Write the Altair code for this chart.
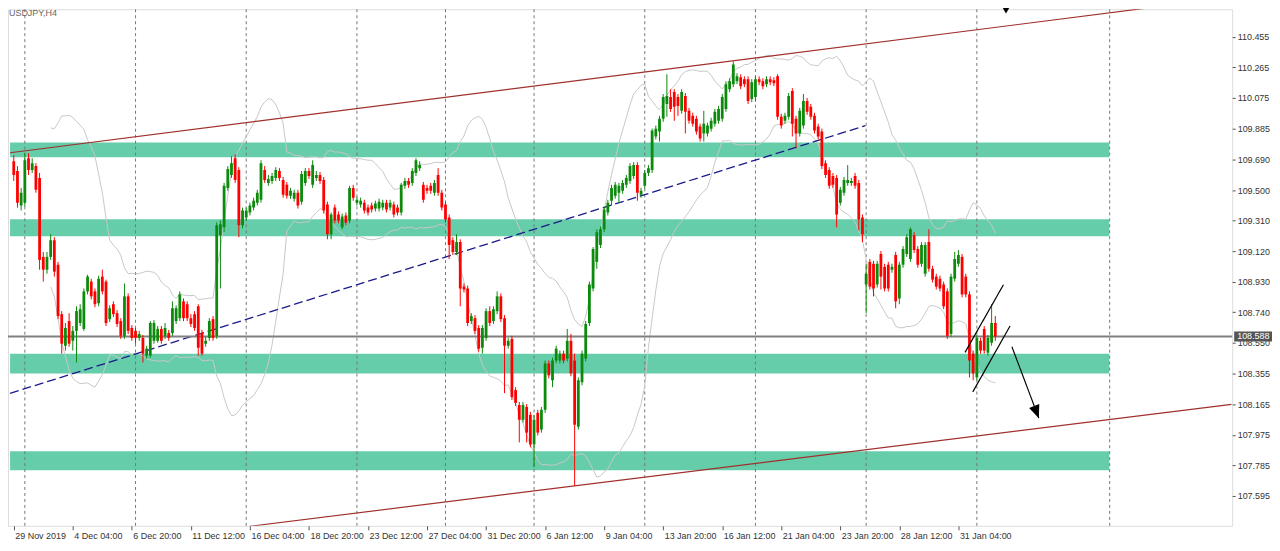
import altair as alt
import pandas as pd

# ---------------- data ----------------
open_ = [109.680,109.619,109.404,109.422,109.699,109.625,109.650,109.576,109.084,109.004,
109.084,109.188,109.035,108.727,108.530,108.684,108.561,108.623,108.672,108.635,
108.869,108.930,108.869,108.795,108.961,108.930,108.696,108.789,108.733,108.684,
108.592,108.838,108.641,108.623,108.579,108.579,108.469,108.469,108.561,108.561,
108.635,108.592,108.610,108.610,108.684,108.702,108.807,108.789,108.702,108.727,
108.776,108.610,108.543,108.579,108.696,108.592,109.219,109.268,109.514,109.594,
109.699,109.625,109.281,109.330,109.361,109.391,109.422,109.440,109.625,109.545,
109.557,109.576,109.619,109.563,109.533,109.465,109.447,109.484,109.428,109.545,
109.619,109.533,109.576,109.594,109.563,109.410,109.225,109.391,109.348,109.268,
109.342,109.311,109.514,109.422,109.410,109.422,109.391,109.404,109.385,109.385,
109.391,109.422,109.391,109.410,109.391,109.361,109.527,109.557,109.545,109.607,
109.637,109.533,109.514,109.527,109.484,109.594,109.484,109.410,109.330,109.188,
109.115,109.176,108.899,108.887,108.684,108.702,108.641,108.518,108.579,108.746,
108.684,108.746,108.838,108.702,108.530,108.573,108.254,108.161,108.069,108.149,
108.100,107.915,108.112,108.008,108.131,108.420,108.315,108.438,108.438,108.481,
108.450,108.561,108.438,108.026,108.303,108.450,108.672,108.887,109.053,109.158,
109.256,109.361,109.434,109.465,109.484,109.496,109.533,109.557,109.588,109.656,
109.471,109.527,109.607,109.625,109.834,109.865,109.945,110.037,110.080,110.111,
110.080,109.994,110.086,109.994,109.963,109.945,109.896,109.853,109.853,109.883,
109.914,109.932,109.945,110.006,110.129,110.160,110.178,110.203,110.191,110.191,
110.068,110.080,110.191,110.178,110.160,110.191,110.185,110.209,109.957,109.932,
109.957,110.117,109.945,109.853,109.902,110.055,110.019,109.963,109.896,109.865,
109.668,109.625,109.588,109.576,109.422,109.484,109.545,109.545,109.588,109.545,
109.330,108.912,109.053,109.041,108.912,109.102,109.022,109.035,109.004,109.096,
108.825,109.035,109.102,109.071,109.219,109.133,109.041,108.979,109.176,109.010,
108.961,108.948,108.912,108.869,108.604,108.948,109.041,109.084,108.961,108.850,
108.481,108.333,108.561,108.635,108.487,108.549,108.672]

high = [109.717,109.650,109.514,109.730,109.730,109.699,109.668,109.607,109.115,109.115,
109.225,109.207,109.053,108.746,108.672,108.733,108.653,108.776,108.789,108.887,
108.973,108.948,108.887,108.967,109.004,108.942,108.782,108.807,108.752,108.702,
108.918,108.856,108.659,108.641,108.623,108.598,108.530,108.684,108.690,108.653,
108.653,108.672,108.629,108.807,108.782,108.869,108.825,108.807,108.727,108.746,
108.789,108.629,108.586,108.702,108.715,109.299,109.311,109.545,109.650,109.711,
109.723,109.643,109.391,109.391,109.422,109.453,109.502,109.686,109.650,109.594,
109.607,109.643,109.637,109.582,109.551,109.514,109.502,109.502,109.619,109.637,
109.637,109.686,109.619,109.613,109.582,109.428,109.361,109.410,109.367,109.354,
109.361,109.527,109.533,109.459,109.453,109.440,109.410,109.422,109.434,109.447,
109.440,109.440,109.440,109.428,109.410,109.545,109.576,109.576,109.637,109.699,
109.680,109.551,109.533,109.545,109.563,109.637,109.502,109.428,109.348,109.207,
109.225,109.194,108.918,108.905,108.733,108.721,108.659,108.659,108.764,108.776,
108.776,108.869,108.856,108.721,108.579,108.592,108.272,108.180,108.180,108.167,
108.118,108.100,108.131,108.149,108.438,108.438,108.456,108.530,108.500,108.500,
108.635,108.604,108.481,108.333,108.500,108.684,108.930,109.145,109.256,109.274,
109.397,109.440,109.533,109.551,109.545,109.563,109.594,109.668,109.674,109.674,
109.514,109.625,109.656,109.883,109.902,109.963,110.099,110.222,110.129,110.129,
110.099,110.129,110.105,110.012,109.982,109.963,109.914,109.994,109.920,109.951,
110.006,110.025,110.099,110.178,110.197,110.301,110.228,110.222,110.209,110.209,
110.191,110.209,110.209,110.197,110.209,110.209,110.203,110.222,109.976,109.982,
110.105,110.135,109.963,110.012,110.099,110.074,110.037,109.982,109.914,109.883,
109.686,109.643,109.607,109.594,109.520,109.582,109.656,109.576,109.607,109.563,
109.348,109.041,109.071,109.059,109.059,109.121,109.041,109.053,109.041,109.115,
109.053,109.151,109.225,109.268,109.238,109.151,109.176,109.176,109.256,109.028,
108.979,108.967,108.930,108.887,108.979,109.115,109.127,109.102,108.979,108.869,
108.500,108.598,108.579,108.653,108.598,108.789,108.715]

low = [109.557,109.391,109.373,109.397,109.594,109.607,109.484,109.004,108.930,108.979,
109.065,108.961,108.696,108.481,108.500,108.524,108.500,108.426,108.653,108.623,
108.850,108.819,108.770,108.776,108.850,108.653,108.678,108.709,108.647,108.573,
108.573,108.604,108.561,108.543,108.561,108.426,108.450,108.456,108.543,108.549,
108.543,108.573,108.561,108.592,108.666,108.684,108.684,108.684,108.647,108.623,
108.469,108.469,108.524,108.561,108.561,108.573,108.887,109.238,109.496,109.576,
109.545,109.207,109.262,109.311,109.342,109.373,109.404,109.422,109.545,109.527,
109.539,109.557,109.557,109.453,109.447,109.447,109.428,109.385,109.410,109.527,
109.570,109.514,109.557,109.539,109.354,109.194,109.194,109.293,109.293,109.256,
109.281,109.293,109.434,109.404,109.391,109.354,109.342,109.361,109.367,109.367,
109.373,109.361,109.373,109.330,109.342,109.342,109.508,109.514,109.527,109.588,
109.619,109.422,109.477,109.477,109.465,109.465,109.373,109.299,109.071,109.096,
109.096,108.776,108.862,108.653,108.666,108.604,108.493,108.481,108.561,108.653,
108.666,108.727,108.678,108.235,108.512,108.192,108.155,107.928,108.051,107.928,
107.897,107.774,107.971,107.989,108.112,108.327,108.272,108.420,108.420,108.420,
108.432,108.340,107.657,108.008,108.284,108.432,108.653,108.869,109.010,109.139,
109.238,109.342,109.404,109.447,109.422,109.477,109.514,109.539,109.570,109.434,
109.453,109.508,109.588,109.607,109.816,109.803,109.926,109.957,109.988,109.932,
109.963,109.976,109.853,109.914,109.896,109.846,109.803,109.803,109.834,109.865,
109.896,109.914,109.926,109.988,110.111,110.142,110.160,110.129,110.142,110.037,
110.049,110.055,110.154,110.129,110.142,110.154,110.148,109.939,109.883,109.914,
109.939,109.834,109.760,109.834,109.883,109.969,109.939,109.853,109.816,109.631,
109.576,109.508,109.514,109.268,109.404,109.465,109.527,109.527,109.508,109.250,
109.176,108.733,108.881,108.838,108.893,108.881,108.869,108.869,108.985,108.764,
108.789,109.016,109.084,109.053,109.108,109.016,109.022,108.961,108.992,108.924,
108.881,108.869,108.758,108.573,108.586,108.930,109.022,108.832,108.832,108.333,
108.315,108.315,108.481,108.481,108.469,108.530,108.561]

close = [109.594,109.422,109.484,109.686,109.625,109.668,109.502,109.065,109.004,109.084,
109.188,108.992,108.715,108.543,108.641,108.543,108.623,108.746,108.758,108.869,
108.961,108.838,108.789,108.948,108.869,108.672,108.764,108.727,108.666,108.592,
108.838,108.623,108.579,108.579,108.604,108.481,108.512,108.672,108.672,108.635,
108.561,108.641,108.579,108.764,108.764,108.850,108.702,108.702,108.666,108.641,
108.518,108.481,108.561,108.684,108.579,109.281,109.287,109.527,109.631,109.668,
109.563,109.281,109.373,109.373,109.404,109.434,109.484,109.668,109.563,109.570,
109.588,109.625,109.576,109.471,109.465,109.496,109.484,109.404,109.600,109.619,
109.588,109.656,109.594,109.557,109.373,109.225,109.348,109.311,109.311,109.336,
109.299,109.514,109.453,109.440,109.434,109.373,109.361,109.379,109.416,109.428,
109.422,109.379,109.422,109.348,109.361,109.533,109.557,109.533,109.619,109.686,
109.656,109.440,109.496,109.496,109.545,109.484,109.391,109.317,109.158,109.115,
109.176,108.887,108.881,108.672,108.715,108.623,108.512,108.641,108.746,108.672,
108.758,108.838,108.696,108.530,108.561,108.210,108.174,108.069,108.161,107.989,
107.915,108.069,107.989,108.131,108.420,108.346,108.438,108.512,108.481,108.438,
108.561,108.358,108.038,108.315,108.481,108.666,108.912,109.133,109.238,109.256,
109.379,109.422,109.514,109.533,109.527,109.545,109.576,109.650,109.656,109.484,
109.496,109.607,109.637,109.871,109.883,109.945,110.080,110.086,110.006,110.019,
110.025,110.111,109.988,109.932,109.914,109.865,109.822,109.914,109.902,109.932,
109.988,110.006,110.080,110.160,110.178,110.283,110.209,110.148,110.160,110.055,
110.172,110.191,110.172,110.148,110.191,110.172,110.166,109.957,109.902,109.963,
110.086,109.914,109.853,109.994,110.055,109.988,109.957,109.871,109.834,109.650,
109.594,109.527,109.533,109.348,109.502,109.563,109.563,109.557,109.527,109.317,
109.225,108.979,108.899,108.887,109.041,108.961,108.887,108.887,109.022,108.807,
109.035,109.133,109.207,109.256,109.127,109.035,109.158,109.158,109.010,108.942,
108.899,108.887,108.776,108.592,108.961,109.071,109.096,108.850,108.850,108.438,
108.358,108.579,108.500,108.500,108.579,108.672,108.588]

last_price = 108.588
last_price_text = "108.588"
symbol_text = "USDJPY,H4"

xtick_idx = [0, 16, 32, 48, 64, 80, 96, 112, 128, 144, 160, 176, 192, 208, 224, 240, 256]
xtick_labels = ["29 Nov 2019", "4 Dec 04:00", "6 Dec 20:00", "11 Dec 12:00", "16 Dec 04:00",
                "18 Dec 20:00", "23 Dec 12:00", "27 Dec 04:00", "31 Dec 20:00", "6 Jan 12:00",
                "9 Jan 04:00", "13 Jan 20:00", "16 Jan 12:00", "21 Jan 04:00", "23 Jan 20:00",
                "28 Jan 12:00", "31 Jan 04:00"]
ytick_vals = [107.405, 107.595, 107.785, 107.975, 108.165, 108.355, 108.55, 108.74, 108.93,
              109.12, 109.31, 109.5, 109.69, 109.885, 110.075, 110.265, 110.455]

separator_idx = [3, 33, 63, 93, 117, 141, 171, 201, 231, 261, 297]

zone_lo = [109.705, 109.213, 108.358, 107.755]
zone_hi = [109.797, 109.318, 108.481, 107.872]
zone_start = -1
zone_end = 296.9

upper_ch_x = [-1, 310]
upper_ch_p = [109.733, 110.643]
lower_ch_x = [63.9, 330]
lower_ch_p = [107.405, 108.165]
trend_x = [-1, 230.8]
trend_p = [108.234, 109.902]

flag_x = [257.8, 268.2, 259.9, 270.0]
flag_p = [108.489, 108.910, 108.243, 108.653]
flag_seg = ["a", "a", "b", "b"]
arrow_x = [270.5, 277.8]
arrow_p = [108.524, 108.079]
top_marker_idx = 268.9

# ---------------- chart ----------------
W, H = 1230, 519
X_DOM = [-0.213, 328.85]
Y_DOM = [107.408, 110.627]
FONT = "Liberation Sans"
TXT = "#333333"

n = len(close)
candles = pd.DataFrame({"idx": list(range(n)), "open": open_, "high": high,
                        "low": low, "close": close})
candles["dir"] = ["up" if c >= o else "down" for o, c in zip(open_, close)]

xs = alt.Scale(domain=X_DOM, nice=False, zero=False)
ys = alt.Scale(domain=Y_DOM, nice=False, zero=False)

label_js = "[" + ",".join("'%s'" % s for s in xtick_labels) + "][round(datum.value/16)]"
x_axis = alt.Axis(values=xtick_idx, labelExpr=label_js, title=None, grid=False, domain=False,
                  ticks=True, tickSize=4, tickColor="#555555", labelAlign="left", labelOffset=1,
                  labelPadding=2, labelFlush=False, labelOverlap=False, labelFont=FONT,
                  labelFontSize=9, labelColor=TXT)
y_axis = alt.Axis(orient="right", values=ytick_vals, format=".3f", title=None, grid=False,
                  domain=False, ticks=True, tickSize=3, tickColor="#555555", labelPadding=2,
                  labelOverlap=False, labelFlush=False, labelFont=FONT, labelFontSize=9,
                  labelColor=TXT)


def X(field):
    return alt.X(field, type="quantitative", scale=xs, axis=x_axis)


def Y(field):
    return alt.Y(field, type="quantitative", scale=ys, axis=y_axis)


zones = alt.Chart(pd.DataFrame({"x0": [zone_start] * 4, "x1": [zone_end] * 4,
                                "lo": zone_lo, "hi": zone_hi})).mark_rect(
    color="#66CDAA", clip=True).encode(x=X("x0"), x2="x1", y=Y("lo"), y2="hi")

seps = alt.Chart(pd.DataFrame({"idx": separator_idx})).mark_rule(
    color="#777777", strokeDash=[3, 3], strokeWidth=1).encode(x=X("idx"))

bb = alt.Chart(candles).transform_window(
    ma="mean(close)", sd="stdevp(close)", frame=[-19, 0], sort=[alt.SortField("idx")]
).transform_calculate(
    up="datum.ma + 2*datum.sd", dn="datum.ma - 2*datum.sd"
).transform_filter("datum.idx >= 10").transform_fold(
    ["up", "dn"], as_=["band", "val"]
).mark_line(color="#c8c8c8", strokeWidth=1, clip=True).encode(
    x=X("idx"), y=Y("val"), detail="band:N")

upper_ch = alt.Chart(pd.DataFrame({"x": upper_ch_x, "p": upper_ch_p})).mark_line(
    color="#a0302c", strokeWidth=1.2, clip=True).encode(x=X("x"), y=Y("p"))
lower_ch = alt.Chart(pd.DataFrame({"x": lower_ch_x, "p": lower_ch_p})).mark_line(
    color="#a0302c", strokeWidth=1.2, clip=True).encode(x=X("x"), y=Y("p"))
trend = alt.Chart(pd.DataFrame({"x": trend_x, "p": trend_p})).mark_line(
    color="#1a1a8a", strokeWidth=1.3, strokeDash=[9, 4], clip=True).encode(x=X("x"), y=Y("p"))

price_line = alt.Chart(pd.DataFrame({"p": [last_price]})).mark_rule(
    color="#808080", strokeWidth=2).encode(y=Y("p"))

col = alt.Color("dir:N", scale=alt.Scale(domain=["up", "down"], range=["#0b8a0b", "#ff0000"]),
                legend=None)
wick = alt.Chart(candles).mark_rule(strokeWidth=1, clip=True).encode(
    x=X("idx"), y=Y("low"), y2="high", color=col)
body = alt.Chart(candles).mark_bar(size=2.8, clip=True).encode(
    x=X("idx"), y=Y("open"), y2="close", color=col)

flag = alt.Chart(pd.DataFrame({"x": flag_x, "p": flag_p, "seg": flag_seg})).mark_line(
    color="black", strokeWidth=1.2).encode(x=X("x"), y=Y("p"), detail="seg:N")
arrow = alt.Chart(pd.DataFrame({"x": arrow_x, "p": arrow_p})).mark_line(
    color="black", strokeWidth=1.2).encode(x=X("x"), y=Y("p"))
head = alt.Chart(pd.DataFrame({"x": arrow_x[1:], "p": arrow_p[1:]})).mark_point(
    shape="M0,0L-0.42,-1L0.42,-1Z", size=676, angle=339, filled=True, color="black",
    opacity=1).encode(x=X("x"), y=Y("p"))
top_marker = alt.Chart(pd.DataFrame({"x": [top_marker_idx]})).mark_point(
    shape="triangle-down", size=60, filled=True, color="black", opacity=1).encode(
    x=X("x"), y=alt.value(1))

box = alt.Chart(pd.DataFrame({"a": [last_price + 0.031], "b": [last_price - 0.031]})).mark_rect(
    color="#555555").encode(x=alt.value(W + 2), x2=alt.value(W + 40), y=Y("a"), y2="b")
box_text = alt.Chart(pd.DataFrame({"p": [last_price], "t": [last_price_text]})).mark_text(
    align="left", baseline="middle", font=FONT, fontSize=9, color="white").encode(
    x=alt.value(W + 5), y=Y("p"), text="t:N")
sym = alt.Chart(pd.DataFrame({"t": [symbol_text]})).mark_text(
    align="left", baseline="middle", font=FONT, fontSize=9, color="#666666").encode(
    x=alt.value(1), y=alt.value(4), text="t:N")

chart = alt.layer(
    zones, seps, bb, upper_ch, lower_ch, trend, price_line, wick, body,
    flag, arrow, head, top_marker, box, box_text, sym
).properties(
    width=W, height=H,
    autosize=alt.AutoSizeParams(type="none"),
    padding={"left": 0, "top": 0, "right": 40, "bottom": 22},
).configure_view(stroke="#7a7a7a", strokeWidth=1, fill="white").configure(background="white")

chart.save("out.html", embed_options={"renderer": "svg", "actions": False})
